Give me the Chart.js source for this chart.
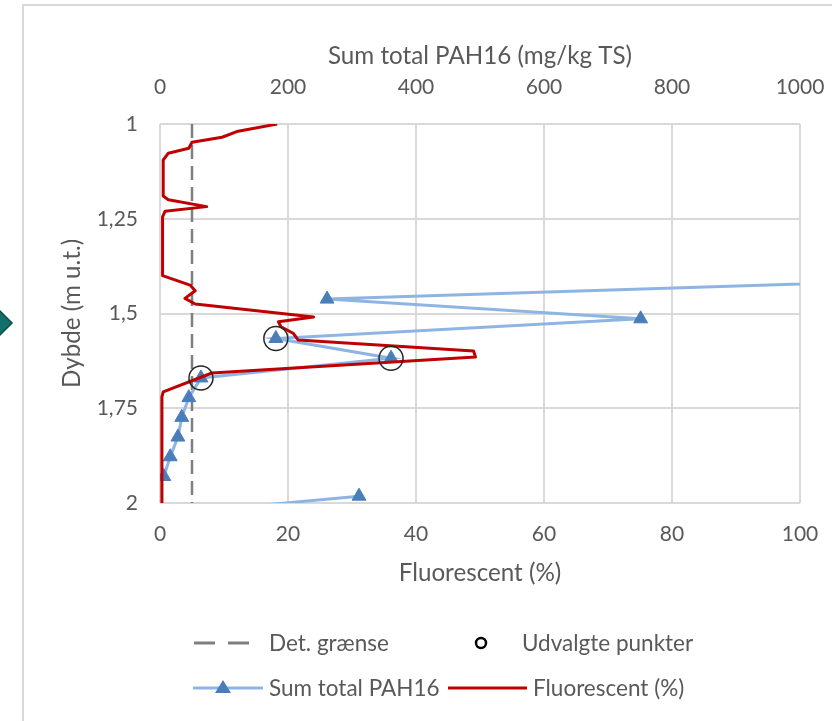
<!DOCTYPE html>
<html>
<head>
<meta charset="utf-8">
<script src="https://cdn.jsdelivr.net/npm/chart.js@4.4.1/dist/chart.umd.min.js"></script>
<style>
  html, body { margin:0; padding:0; background:#fff; }
  #wrap { position:relative; width:832px; height:721px; overflow:hidden; font-family:Lato, sans-serif; color:#595959; }
  #frame { position:absolute; left:22px; top:4px; width:830px; height:730px; border-left:2px solid #d9d9d9; border-top:2px solid #d9d9d9; }
  #chart { position:absolute; left:0; top:0; }
  #marks { position:absolute; left:0; top:0; pointer-events:none; }
  .lg { position:absolute; font-size:22.5px; line-height:1; white-space:nowrap; transform:translateY(-50%); }
</style>
</head>
<body>
<div id="wrap">
  <div id="frame"></div>
  <canvas id="chart" width="832" height="721"></canvas>
  <svg id="marks" width="832" height="721">
    <!-- handle at left edge -->
    <polygon points="-3,308 12,323 -3,338 -18,323" fill="#11706a" stroke="#0b4f4b" stroke-width="1.5"/>
    <!-- legend symbols -->
    <line x1="194" y1="643" x2="262" y2="643" stroke="#7f7f7f" stroke-width="3" stroke-dasharray="21 13"/>
    <circle cx="481" cy="643" r="5" fill="none" stroke="#000" stroke-width="2.5"/>
    <line x1="193" y1="688" x2="263" y2="688" stroke="#8eb4e3" stroke-width="3"/>
    <polygon points="223,680 231,693 215,693" fill="#4a7ebb"/>
    <line x1="448" y1="688" x2="527" y2="688" stroke="#c00000" stroke-width="3"/>
  </svg>
  <div class="lg" style="left:269px; top:643px">Det. grænse</div>
  <div class="lg" style="left:522px; top:643px">Udvalgte punkter</div>
  <div class="lg" style="left:269px; top:688px">Sum total PAH16</div>
  <div class="lg" style="left:533px; top:688px">Fluorescent (%)</div>
</div>
<script>
// fluorescens-log (%), dybde i m u.t.
const fluorDepth = [1.000, 1.020, 1.035, 1.048, 1.064, 1.077, 1.095, 1.190, 1.200, 1.218, 1.230, 1.245,
                    1.400, 1.425, 1.440, 1.460, 1.475, 1.509, 1.522, 1.535, 1.552, 1.570,
                    1.599, 1.615, 1.657, 1.707, 1.720, 2.000];
const fluorPct   = [18.3, 12.0, 9.7, 5.0, 4.5, 1.3, 0.5, 0.5, 1.3, 7.3, 0.8, 0.4,
                    0.4, 4.7, 5.5, 3.9, 5.5, 24.0, 18.5, 18.9, 20.8, 21.6,
                    49.0, 49.3, 8.1, 0.5, 0.3, 0.3];

// sum total PAH16 (mg/kg TS) - null = hul i serien
const pahDepth = [1.410, 1.462, 1.514, 1.566, 1.618, 1.670, 1.722, 1.774, 1.826, 1.878, 1.930, null, 1.982, 2.030];
const pahValue = [1230, 261, 751, 181, 361, 64, 45, 34, 28, 16, 6, null, 311, 5];

// udvalgte punkter
const selDepth = [1.566, 1.618, 1.670];
const selValue = [181, 361, 64];

// detektionsgrænse
const detDepth = [1, 2];
const detValue = [5, 5];

const depthMin = 1, depthMax = 2, depthStep = 0.25;
const fluorMax = 100, fluorStep = 20;
const pahMax = 1000, pahStep = 200;

const txt = '#595959';
const gridCol = '#d9d9d9';
const tickFont = { family: 'Lato', size: 21 };
const titleFont = { family: 'Lato', size: 24.2 };

const pts = (xs, ys) => xs.map((x, i) => ({ x, y: ys[i] }));
const noPad = (s) => { s.paddingLeft = 0; s.paddingRight = 0; s.paddingTop = 0; s.paddingBottom = 0; };

new Chart(document.getElementById('chart'), {
  type: 'scatter',
  data: {
    datasets: [
      { label: 'Udvalgte punkter', data: pts(selValue, selDepth), xAxisID: 'x2', yAxisID: 'y',
        showLine: false, pointStyle: 'circle', pointRadius: 12,
        pointBackgroundColor: 'rgba(0,0,0,0)', pointBorderColor: '#262626', pointBorderWidth: 1.5 },
      { label: 'Fluorescent (%)', data: pts(fluorPct, fluorDepth), xAxisID: 'x', yAxisID: 'y',
        showLine: true, borderColor: '#c00000', borderWidth: 3, pointRadius: 0, borderJoinStyle: 'round' },
      { label: 'Sum total PAH16', data: pts(pahValue, pahDepth), xAxisID: 'x2', yAxisID: 'y',
        showLine: true, spanGaps: false, borderColor: '#8eb4e3', borderWidth: 3,
        pointStyle: 'triangle', pointRadius: 8,
        pointBackgroundColor: '#4a7ebb', pointBorderColor: '#4a7ebb', pointBorderWidth: 1 },
      { label: 'Det. grænse', data: pts(detValue, detDepth), xAxisID: 'x', yAxisID: 'y',
        showLine: true, borderColor: '#7f7f7f', borderWidth: 2.5, borderDash: [14, 7], pointRadius: 0 }
    ]
  },
  options: {
    responsive: false,
    animation: false,
    events: [],
    layout: { padding: { left: 0, top: 0, right: 32, bottom: 118 } },
    plugins: { legend: { display: false }, tooltip: { enabled: false } },
    scales: {
      x: {
        type: 'linear', position: 'bottom', min: 0, max: fluorMax,
        ticks: { stepSize: fluorStep, padding: 19, color: txt, font: tickFont, callback: (v) => String(v) },
        grid: { color: gridCol, lineWidth: 2, drawTicks: false },
        border: { display: false },
        title: { display: true, text: 'Fluorescent (%)', color: txt, font: titleFont, padding: { top: 0, bottom: 15 } },
        afterFit: (s) => { s.height = 100; noPad(s); }
      },
      x2: {
        type: 'linear', position: 'top', min: 0, max: pahMax,
        ticks: { stepSize: pahStep, padding: 24, color: txt, font: tickFont, callback: (v) => String(v) },
        grid: { display: false, drawTicks: false },
        border: { display: false },
        title: { display: true, text: 'Sum total PAH16 (mg/kg TS)', color: txt, font: titleFont, padding: { top: 42, bottom: 0 } },
        afterFit: (s) => { s.height = 124; noPad(s); }
      },
      y: {
        type: 'linear', position: 'left', reverse: true, min: depthMin, max: depthMax,
        ticks: { stepSize: depthStep, padding: 22, color: txt, font: tickFont,
                 callback: (v) => String(+v.toFixed(2)).replace('.', ',') },
        grid: { color: gridCol, lineWidth: 2, drawTicks: false },
        border: { display: false },
        title: { display: true, text: 'Dybde (m u.t.)', color: txt, font: titleFont, padding: { top: 58, bottom: 0 } },
        afterFit: (s) => { s.width = 160; noPad(s); }
      }
    }
  }
});
</script>
</body>
</html>
